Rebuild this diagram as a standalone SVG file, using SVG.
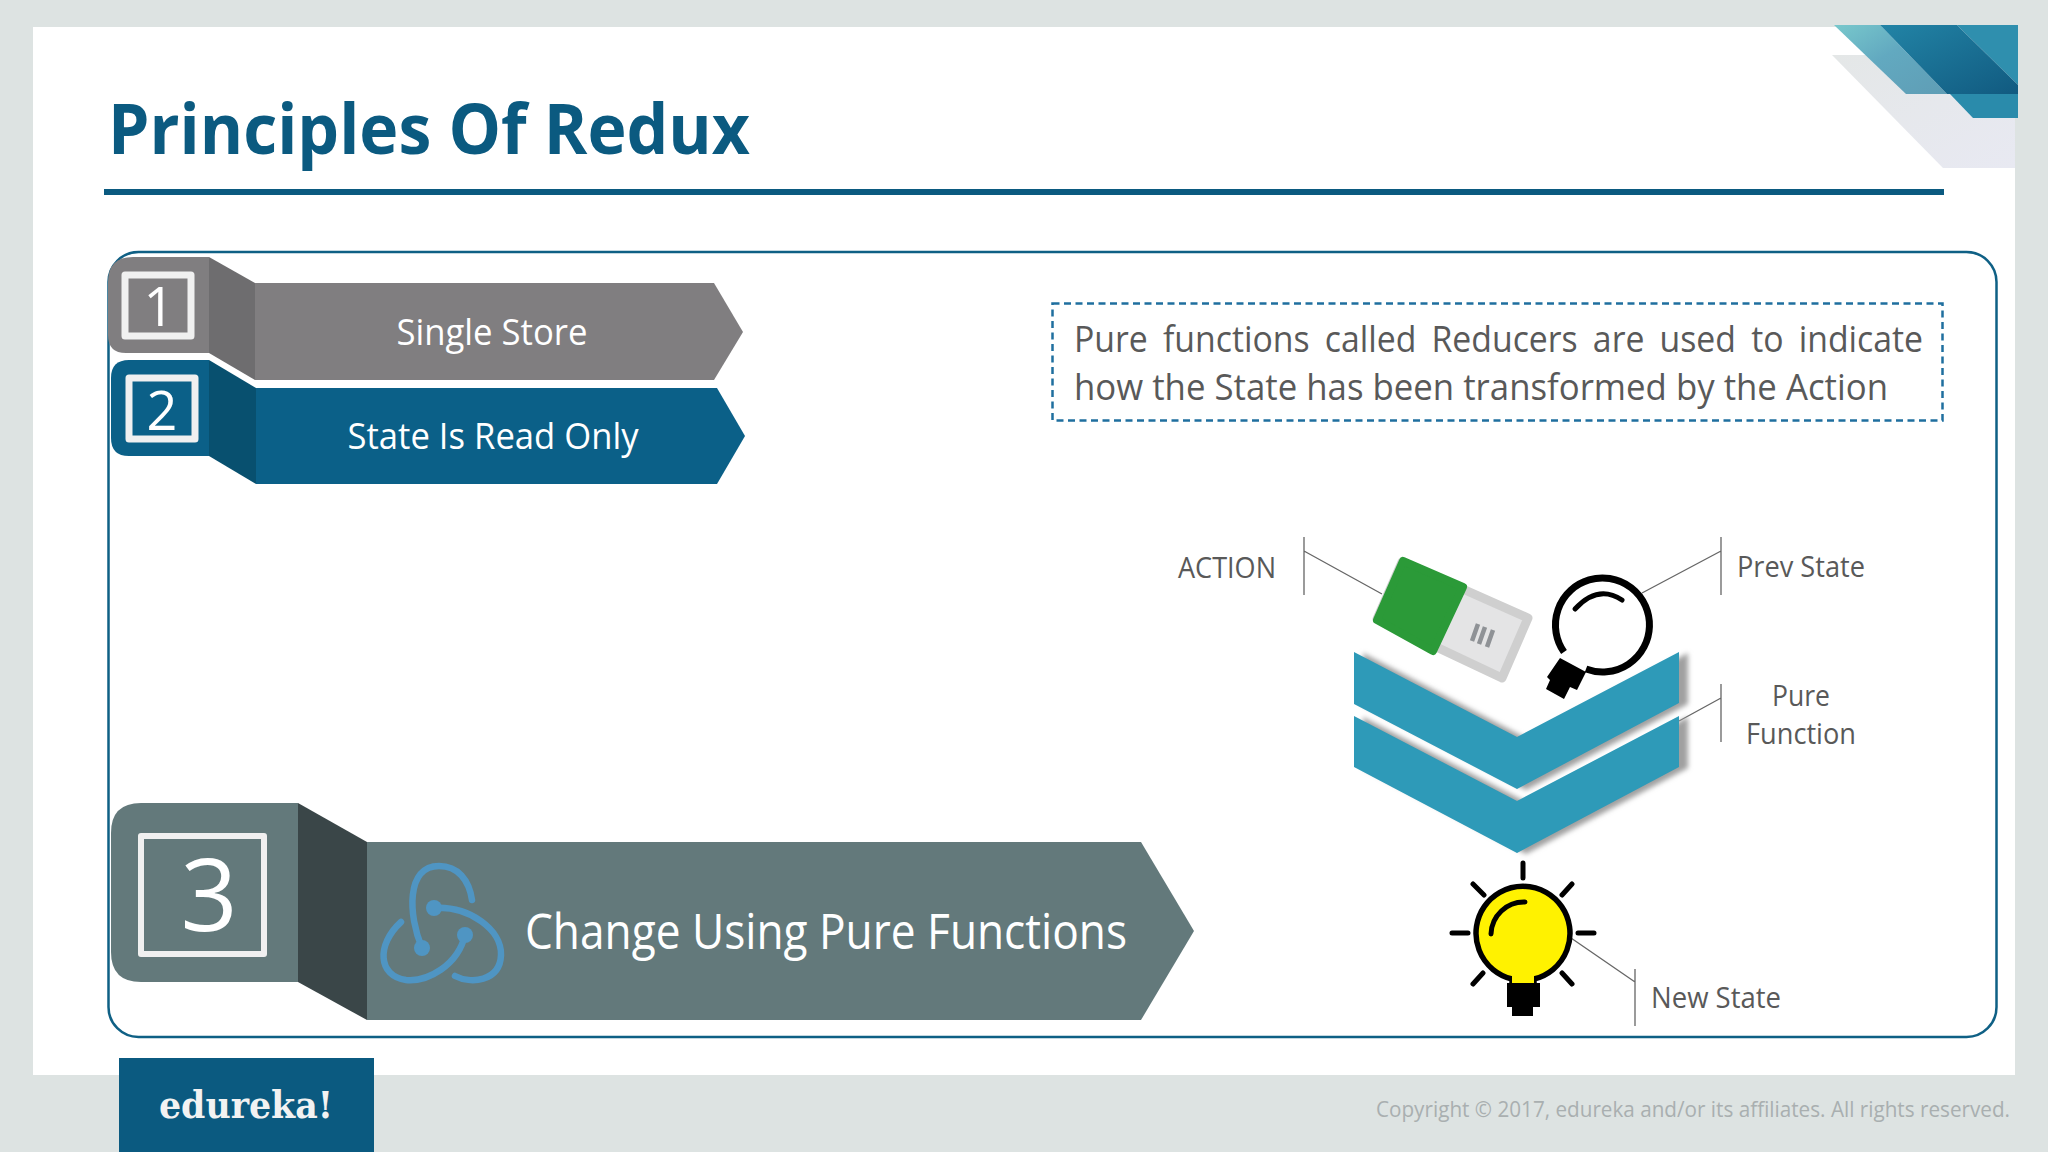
<svg xmlns="http://www.w3.org/2000/svg" width="2048" height="1152" viewBox="0 0 2048 1152">
<style>
text{font-family:"Open Sans","Noto Sans","Liberation Sans",sans-serif}
.w{fill:#fff;text-anchor:middle}
.g{fill:#595959}
.l{fill:#595959;font-size:29px}
.sq{fill:none;stroke:#f0f0f0;stroke-linejoin:round}
.lead{fill:none;stroke:#666;stroke-width:1.3}
.k{fill:none;stroke:#000;stroke-linecap:round}
.rx{fill:none;stroke:#4f95c3;stroke-width:6.500;stroke-linecap:round}
</style>
<defs>
<filter id="blur" x="-10%" y="-10%" width="120%" height="120%"><feGaussianBlur stdDeviation="2.500"/></filter>
<linearGradient id="teal" x1="0" y1="0" x2="1" y2="1"><stop offset="0" stop-color="#78c8cc"/><stop offset="0.450" stop-color="#62a9c0"/><stop offset="1" stop-color="#5f9db5"/></linearGradient>
<linearGradient id="dark" x1="0" y1="0" x2="1" y2="1"><stop offset="0" stop-color="#2284a6"/><stop offset="1" stop-color="#115a80"/></linearGradient>
<linearGradient id="pale" x1="0" y1="0" x2="1" y2="1"><stop offset="0" stop-color="#e4e7e7"/><stop offset="1" stop-color="#e8e9f2"/></linearGradient>
</defs>
<rect width="2048" height="1152" fill="#dde3e2"/>
<rect x="33" y="27" width="1982" height="1048" fill="#fff"/>
<g id="corner">
<polygon points="1832,55 2015,55 2015,168 1943,168" fill="url(#pale)"/>
<polygon points="1834,25 1880,25 1947,94 1906,94" fill="url(#teal)"/>
<polygon points="1950,94 2018,94 2018,118 1973,118" fill="#2a8bab"/>
<polygon points="1957,25 2018,25 2018,85" fill="#2f8fae"/>
<polygon points="1880,25 1957,25 2018,85 2018,94 1947,94" fill="url(#dark)"/>
</g>
<g id="title">
<text x="108" y="154" font-size="69" font-weight="700" fill="#0b5a80" textLength="642" lengthAdjust="spacingAndGlyphs">Principles Of Redux</text>
<rect x="104" y="189" width="1840" height="6" fill="#0b5a80"/>
</g>
<rect id="frame" x="108.500" y="252" width="1888" height="785" rx="30" fill="none" stroke="#0f6085" stroke-width="2.500"/>
<g id="step1">
<path d="M209,257H133Q108,257 108,282V335Q108,353 126,353H209Z" fill="#807e80"/>
<polygon points="209,257 255,283 255,380 209,353" fill="#6e6d6f"/>
<polygon points="255,283 714,283 743,332 714,380 255,380" fill="#807e80"/>
<rect x="125" y="275" width="66" height="61" class="sq" stroke-width="7"/>
<text x="159" y="326" font-size="54" class="w">1</text>
<text x="492" y="345" font-size="37" class="w" textLength="191" lengthAdjust="spacingAndGlyphs">Single Store</text>
</g>
<g id="step2">
<path d="M209,360H129Q111,360 111,378V438Q111,456 129,456H209Z" fill="#0b6088"/>
<polygon points="209,360 256,388 256,484 209,456" fill="#08506f"/>
<polygon points="256,388 717,388 745,436 717,484 256,484" fill="#0b6088"/>
<rect x="129" y="378" width="66" height="61" class="sq" stroke-width="7"/>
<text x="162" y="430" font-size="54" class="w">2</text>
<text x="493" y="449" font-size="37" class="w" textLength="291" lengthAdjust="spacingAndGlyphs">State Is Read Only</text>
</g>
<g id="step3">
<path d="M298,803H141Q111,803 111,833V952Q111,982 141,982H298Z" fill="#63797b"/>
<polygon points="298,803 367,842 367,1020 298,982" fill="#3a4648"/>
<polygon points="367,842 1141,842 1194,931 1141,1020 367,1020" fill="#63797b"/>
<rect x="141" y="836" width="123" height="118" class="sq" stroke-width="6"/>
<text x="209" y="931" font-size="100" class="w">3</text>
<g id="redux-logo">
<path class="rx" d="M422,948C408,915 406,866 439,866C458,866 469,880 472,900"/>
<path class="rx" d="M434,908C470,906 502,930 501,955C500,982 470,984 455,976"/>
<path class="rx" d="M465,935C458,965 428,982 406,980C378,976 376,945 401,922"/>
<circle cx="434" cy="908" r="8" fill="#4f95c3"/>
<circle cx="422" cy="948" r="8" fill="#4f95c3"/>
<circle cx="465" cy="935" r="8" fill="#4f95c3"/>
</g>
<text x="525" y="949" font-size="49" fill="#fff" textLength="602" lengthAdjust="spacingAndGlyphs">Change Using Pure Functions</text>
</g>
<g id="note">
<rect x="1052.500" y="303.500" width="890" height="117" fill="none" stroke="#1f6f9f" stroke-width="2.500" stroke-dasharray="7 4.500"/>
<text x="1074" y="352" font-size="37" class="g" word-spacing="7" textLength="849" lengthAdjust="spacingAndGlyphs">Pure functions called Reducers are used to indicate</text>
<text x="1074" y="400" font-size="37" class="g" textLength="814" lengthAdjust="spacingAndGlyphs">how the State has been transformed by the Action</text>
</g>
<g id="connectors">
<path class="lead" d="M1304,537V595M1304,551L1382,594"/>
<path class="lead" d="M1721,537V595M1721,551L1642,593"/>
<path class="lead" d="M1721,684V742M1721,698L1679,721"/>
<path class="lead" d="M1635,969V1026M1635,982L1571,938"/>
</g>
<g id="reducer">
<g filter="url(#blur)" fill="#a0a0a0" transform="translate(9,1)">
<polygon points="1354,652 1517,737 1679,652 1679,703 1517,789 1354,704"/>
<polygon points="1354,716 1517,801 1679,716 1679,767 1517,853 1354,767"/>
</g>
<polygon points="1354,652 1517,737 1679,652 1679,703 1517,789 1354,704" fill="#2e9ab8"/>
<polygon points="1354,716 1517,801 1679,716 1679,767 1517,853 1354,767" fill="#2e9ab8"/>
<text x="1801" y="706" class="l" text-anchor="middle" textLength="58" lengthAdjust="spacingAndGlyphs">Pure</text>
<text x="1801" y="744" class="l" text-anchor="middle" textLength="110" lengthAdjust="spacingAndGlyphs">Function</text>
</g>
<g id="action">
<polygon points="1402,562 1528,618 1502,678 1377,619" fill="#e4e4e5" stroke="#cfcfcf" stroke-width="9" stroke-linejoin="round"/>
<polygon points="1403,561 1463,587 1433,651 1377,620" fill="#2b9a38" stroke="#2b9a38" stroke-width="8" stroke-linejoin="round"/>
<path d="M1478,624L1472,641M1485,627L1479,644M1493,630L1487,647" stroke="#8f9296" stroke-width="4.500" fill="none"/>
<text x="1178" y="578" class="l" textLength="98" lengthAdjust="spacingAndGlyphs">ACTION</text>
</g>
<g id="prev-state">
<path d="M1564,652A47,47 0 1 1 1586,669" fill="#fff" stroke="#000" stroke-width="7"/>
<path class="k" stroke-width="5" d="M1575,609Q1598,584 1622,600"/>
<polygon points="1560,658 1586,672 1577,690 1570,687 1564,699 1546,689 1550,680 1547,677" fill="#000"/>
<text x="1737" y="577" class="l" textLength="128" lengthAdjust="spacingAndGlyphs">Prev State</text>
</g>
<g id="new-state">
<path d="M1512,979A47,47 0 1 1 1534,979V985H1512Z" fill="#fff200" stroke="#000" stroke-width="5.500"/>
<path d="M1507,983H1540V1007H1533V1016H1512V1007H1507Z" fill="#000"/>
<rect x="1512" y="975" width="22" height="8" fill="#fff200"/>
<path class="k" stroke-width="5" d="M1491,934A33,33 0 0 1 1525,902M1523,863V878M1452,933H1468M1578,933H1594M1473,884L1484,895M1572,884L1562,895M1473,984L1483,973M1572,984L1562,973"/>
<text x="1651" y="1008" class="l" textLength="130" lengthAdjust="spacingAndGlyphs">New State</text>
</g>
<g id="footer">
<rect x="119" y="1058" width="255" height="94" fill="#0b5a80"/>
<text x="159" y="1118" font-size="38" font-weight="700" fill="#f2f2f2" style="font-family:'DejaVu Serif',serif" textLength="174" lengthAdjust="spacingAndGlyphs">edureka!</text>
<text x="1376" y="1117" font-size="22.500" fill="#a9afb0" textLength="634" lengthAdjust="spacingAndGlyphs">Copyright © 2017, edureka and/or its affiliates. All rights reserved.</text>
</g>
</svg>
